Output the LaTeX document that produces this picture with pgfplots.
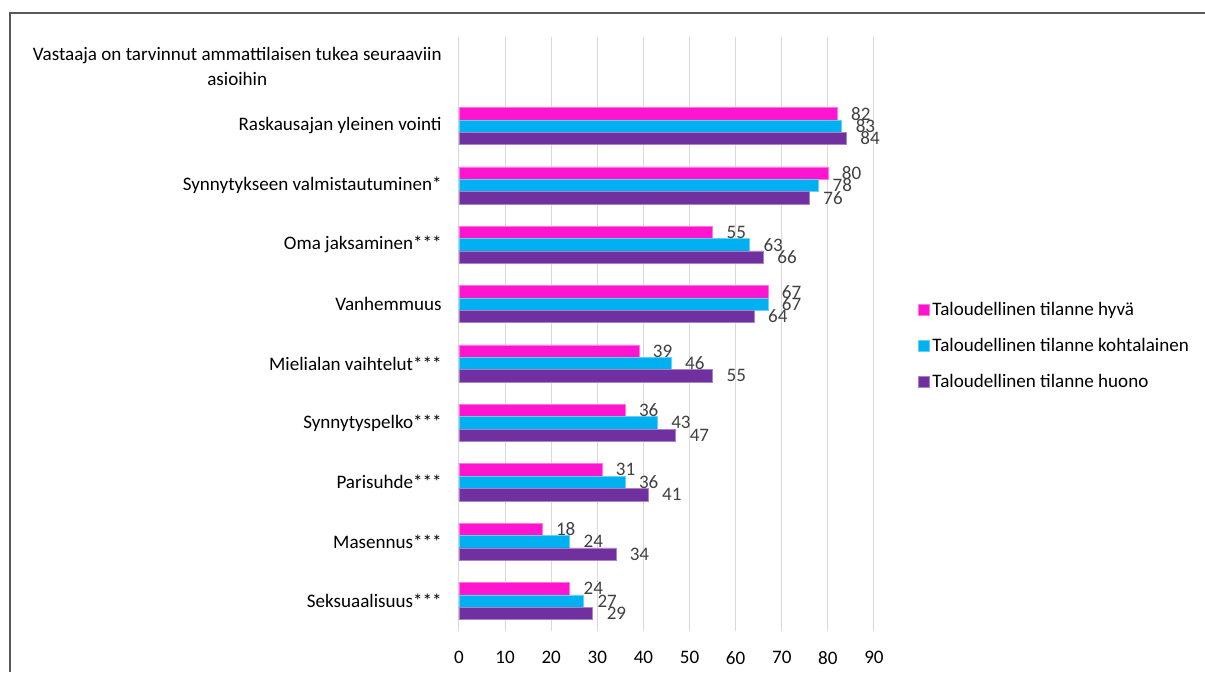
\documentclass[border=0pt]{standalone}
\usepackage{pgfplots}
\pgfplotsset{compat=1.18}
\usepackage{fontspec}
\setmainfont{Carlito}

\definecolor{pinkc}{HTML}{FF15D0}
\definecolor{bluec}{HTML}{00B0F0}
\definecolor{purplec}{HTML}{7030A0}
\definecolor{gridc}{HTML}{D9D9D9}
\definecolor{labc}{HTML}{404040}
\definecolor{framec}{HTML}{595959}

\begin{document}
\begin{tikzpicture}[font=\fontsize{14.3}{18.5}\selectfont]
\useasboundingbox (-344.25pt,-31pt) rectangle (559.5pt,473pt);
\begin{axis}[
    at={(0,0)}, anchor=south west,
    scale only axis,
    width=311.25pt, height=445.3pt,
    xbar, bar width=9.3pt,
    xmin=0, xmax=90, ymin=-0.5, ymax=9.5,
    xtick={0,10,...,90},
    ytick={0,...,9},
    yticklabels={Seksuaalisuus***, Masennus***, Parisuhde***, Synnytyspelko***,
        Mielialan vaihtelut***, Vanhemmuus, Oma jaksaminen***,
        Synnytykseen valmistautuminen*, Raskausajan yleinen vointi,
        {Vastaaja on tarvinnut ammattilaisen tukea seuraaviin\\asioihin}},
    yticklabel style={align=center, anchor=east, xshift=-9.5pt},
    xticklabel style={yshift=-12pt},
    /pgf/number format/assume math mode=true,
    major tick length=0pt,
    axis line style={draw=none},
    xmajorgrids, grid style={gridc, line width=0.75pt},
    nodes near coords,
    nodes near coords style={anchor=west, xshift=7pt, text=labc},
    legend style={at={(1,0.5)}, anchor=west, xshift=30pt, yshift=-9pt,
        draw=none, fill=none, row sep=11.5pt, legend cell align=left},
    legend image code/.code={\fill[#1] (0pt,-4.1pt) rectangle (8.25pt,4.1pt);},
]
\addplot[fill=pinkc, draw=pinkc!60!white, line width=0.4pt, bar shift=9.3pt] coordinates {
    (24,0) (18,1) (31,2) (36,3) (39,4) (67,5) (55,6) (80,7) (82,8)};
\addplot[fill=bluec, draw=bluec!60!white, line width=0.4pt, bar shift=0pt] coordinates {
    (27,0) (24,1) (36,2) (43,3) (46,4) (67,5) (63,6) (78,7) (83,8)};
\addplot[fill=purplec, draw=purplec!60!white, line width=0.4pt, bar shift=-9.3pt] coordinates {
    (29,0) (34,1) (41,2) (47,3) (55,4) (64,5) (66,6) (76,7) (84,8)};
\legend{Taloudellinen tilanne hyvä, Taloudellinen tilanne kohtalainen, Taloudellinen tilanne huono}
\end{axis}
\draw[framec, line width=1.3pt] (-336.75pt,-31pt) -- (-336.75pt,463.3pt) -- (559.5pt,463.3pt);
\end{tikzpicture}
\end{document}
